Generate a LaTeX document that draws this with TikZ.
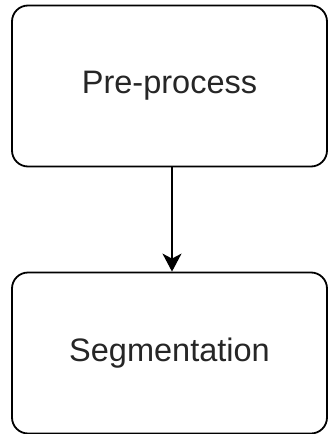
\documentclass[tikz,border=0pt]{standalone}
\usepackage{fontspec}
\setmainfont{Liberation Sans}
\usetikzlibrary{arrows.meta}
\begin{document}
\begin{tikzpicture}[x=1pt,y=-1pt,
  stepbox/.style={draw=black, line width=1.8pt, rounded corners=16pt, fill=white,
    minimum width=315pt, minimum height=161pt, inner sep=0pt,
    font=\fontsize{32.5}{38}\selectfont, text=black!85},
  conn/.style={line width=1.6pt, -{Stealth[length=18pt,width=19pt,inset=5pt]}}]
\useasboundingbox (0,0) rectangle (328,434);
\node[stepbox] (pre) at (169.5,86) {Pre-process};
\node[stepbox] (seg) at (169.5,353) {Segmentation};
\draw[conn] ([xshift=2.5pt]pre.south) -- ([xshift=2.5pt]seg.north);
\end{tikzpicture}
\end{document}
